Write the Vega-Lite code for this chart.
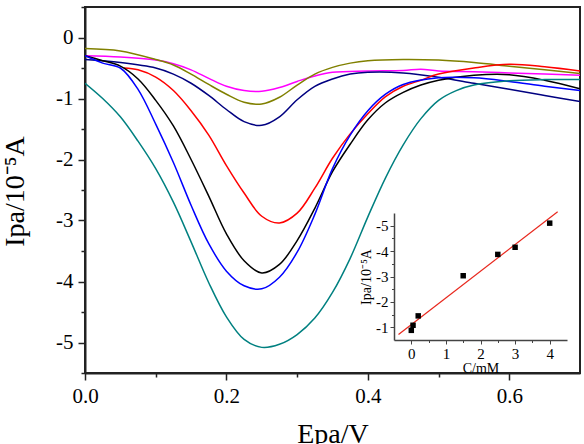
{
  "$schema": "https://vega.github.io/schema/vega-lite/v6.json",
  "width": 495,
  "height": 366,
  "autosize": "none",
  "padding": {"left": 85, "top": 7, "right": 4, "bottom": 71},
  "background": "white",
  "config": {
    "font": "Liberation Serif",
    "view": {"stroke": "#222", "strokeWidth": 2},
    "axis": {
      "grid": false,
      "labelFont": "Liberation Serif",
      "titleFont": "Liberation Serif",
      "titleFontWeight": "normal",
      "labelColor": "#000",
      "titleColor": "#000",
      "domainColor": "#222",
      "tickColor": "#222",
      "labelOverlap": false,
      "labelFlush": false,
      "labelBound": false
    }
  },
  "datasets": {
    "cv": [
      {"c": "0 mM", "E": 0, "I": -0.3}, {"c": "0 mM", "E": 0.05, "I": -0.32}, {"c": "0 mM", "E": 0.1, "I": -0.37}, {"c": "0 mM", "E": 0.125, "I": -0.43}, {"c": "0 mM", "E": 0.15, "I": -0.53}, {"c": "0 mM", "E": 0.175, "I": -0.67}, {"c": "0 mM", "E": 0.2, "I": -0.8}, {"c": "0 mM", "E": 0.225, "I": -0.87}, {"c": "0 mM", "E": 0.25, "I": -0.88}, {"c": "0 mM", "E": 0.275, "I": -0.82}, {"c": "0 mM", "E": 0.3, "I": -0.72}, {"c": "0 mM", "E": 0.325, "I": -0.63}, {"c": "0 mM", "E": 0.35, "I": -0.57}, {"c": "0 mM", "E": 0.4, "I": -0.55}, {"c": "0 mM", "E": 0.45, "I": -0.54}, {"c": "0 mM", "E": 0.475, "I": -0.52}, {"c": "0 mM", "E": 0.5, "I": -0.55}, {"c": "0 mM", "E": 0.55, "I": -0.56}, {"c": "0 mM", "E": 0.6, "I": -0.58}, {"c": "0 mM", "E": 0.65, "I": -0.6}, {"c": "0 mM", "E": 0.7, "I": -0.62},

      {"c": "0.05 mM", "E": 0, "I": -0.18}, {"c": "0.05 mM", "E": 0.05, "I": -0.22}, {"c": "0.05 mM", "E": 0.1, "I": -0.36}, {"c": "0.05 mM", "E": 0.125, "I": -0.45}, {"c": "0.05 mM", "E": 0.15, "I": -0.6}, {"c": "0.05 mM", "E": 0.175, "I": -0.77}, {"c": "0.05 mM", "E": 0.2, "I": -0.93}, {"c": "0.05 mM", "E": 0.225, "I": -1.06}, {"c": "0.05 mM", "E": 0.25, "I": -1.09}, {"c": "0.05 mM", "E": 0.275, "I": -0.98}, {"c": "0.05 mM", "E": 0.3, "I": -0.78}, {"c": "0.05 mM", "E": 0.325, "I": -0.6}, {"c": "0.05 mM", "E": 0.35, "I": -0.49}, {"c": "0.05 mM", "E": 0.375, "I": -0.42}, {"c": "0.05 mM", "E": 0.4, "I": -0.38}, {"c": "0.05 mM", "E": 0.45, "I": -0.36}, {"c": "0.05 mM", "E": 0.5, "I": -0.37}, {"c": "0.05 mM", "E": 0.55, "I": -0.41}, {"c": "0.05 mM", "E": 0.6, "I": -0.47}, {"c": "0.05 mM", "E": 0.65, "I": -0.53}, {"c": "0.05 mM", "E": 0.7, "I": -0.59},

      {"c": "0.2 mM", "E": 0, "I": -0.36}, {"c": "0.2 mM", "E": 0.05, "I": -0.41}, {"c": "0.2 mM", "E": 0.1, "I": -0.5}, {"c": "0.2 mM", "E": 0.125, "I": -0.6}, {"c": "0.2 mM", "E": 0.15, "I": -0.75}, {"c": "0.2 mM", "E": 0.175, "I": -0.95}, {"c": "0.2 mM", "E": 0.2, "I": -1.18}, {"c": "0.2 mM", "E": 0.225, "I": -1.38}, {"c": "0.2 mM", "E": 0.25, "I": -1.44}, {"c": "0.2 mM", "E": 0.275, "I": -1.3}, {"c": "0.2 mM", "E": 0.3, "I": -1.02}, {"c": "0.2 mM", "E": 0.325, "I": -0.8}, {"c": "0.2 mM", "E": 0.35, "I": -0.68}, {"c": "0.2 mM", "E": 0.375, "I": -0.6}, {"c": "0.2 mM", "E": 0.4, "I": -0.57}, {"c": "0.2 mM", "E": 0.45, "I": -0.58}, {"c": "0.2 mM", "E": 0.5, "I": -0.65}, {"c": "0.2 mM", "E": 0.55, "I": -0.75}, {"c": "0.2 mM", "E": 0.6, "I": -0.85}, {"c": "0.2 mM", "E": 0.65, "I": -0.95}, {"c": "0.2 mM", "E": 0.7, "I": -1.05},

      {"c": "1.5 mM", "E": 0.055, "I": -0.5}, {"c": "1.5 mM", "E": 0.075, "I": -0.53}, {"c": "1.5 mM", "E": 0.1, "I": -0.65}, {"c": "1.5 mM", "E": 0.125, "I": -0.87}, {"c": "1.5 mM", "E": 0.15, "I": -1.2}, {"c": "1.5 mM", "E": 0.175, "I": -1.6}, {"c": "1.5 mM", "E": 0.2, "I": -2.1}, {"c": "1.5 mM", "E": 0.225, "I": -2.55}, {"c": "1.5 mM", "E": 0.25, "I": -2.93}, {"c": "1.5 mM", "E": 0.275, "I": -3.04}, {"c": "1.5 mM", "E": 0.3, "I": -2.88}, {"c": "1.5 mM", "E": 0.325, "I": -2.47}, {"c": "1.5 mM", "E": 0.35, "I": -1.98}, {"c": "1.5 mM", "E": 0.375, "I": -1.58}, {"c": "1.5 mM", "E": 0.4, "I": -1.25}, {"c": "1.5 mM", "E": 0.425, "I": -0.97}, {"c": "1.5 mM", "E": 0.45, "I": -0.8}, {"c": "1.5 mM", "E": 0.475, "I": -0.7}, {"c": "1.5 mM", "E": 0.5, "I": -0.6}, {"c": "1.5 mM", "E": 0.55, "I": -0.5}, {"c": "1.5 mM", "E": 0.6, "I": -0.44}, {"c": "1.5 mM", "E": 0.65, "I": -0.48}, {"c": "1.5 mM", "E": 0.7, "I": -0.55},

      {"c": "2.5 mM", "E": 0, "I": -0.3}, {"c": "2.5 mM", "E": 0.025, "I": -0.38}, {"c": "2.5 mM", "E": 0.05, "I": -0.47}, {"c": "2.5 mM", "E": 0.075, "I": -0.68}, {"c": "2.5 mM", "E": 0.1, "I": -1.03}, {"c": "2.5 mM", "E": 0.125, "I": -1.45}, {"c": "2.5 mM", "E": 0.15, "I": -2.0}, {"c": "2.5 mM", "E": 0.175, "I": -2.6}, {"c": "2.5 mM", "E": 0.2, "I": -3.22}, {"c": "2.5 mM", "E": 0.225, "I": -3.66}, {"c": "2.5 mM", "E": 0.25, "I": -3.86}, {"c": "2.5 mM", "E": 0.275, "I": -3.72}, {"c": "2.5 mM", "E": 0.3, "I": -3.33}, {"c": "2.5 mM", "E": 0.325, "I": -2.8}, {"c": "2.5 mM", "E": 0.35, "I": -2.2}, {"c": "2.5 mM", "E": 0.375, "I": -1.75}, {"c": "2.5 mM", "E": 0.4, "I": -1.35}, {"c": "2.5 mM", "E": 0.425, "I": -1.07}, {"c": "2.5 mM", "E": 0.45, "I": -0.9}, {"c": "2.5 mM", "E": 0.475, "I": -0.78}, {"c": "2.5 mM", "E": 0.5, "I": -0.7}, {"c": "2.5 mM", "E": 0.55, "I": -0.62}, {"c": "2.5 mM", "E": 0.6, "I": -0.61}, {"c": "2.5 mM", "E": 0.65, "I": -0.7}, {"c": "2.5 mM", "E": 0.7, "I": -0.84},

      {"c": "3 mM", "E": 0, "I": -0.3}, {"c": "3 mM", "E": 0.025, "I": -0.42}, {"c": "3 mM", "E": 0.05, "I": -0.5}, {"c": "3 mM", "E": 0.075, "I": -0.85}, {"c": "3 mM", "E": 0.1, "I": -1.42}, {"c": "3 mM", "E": 0.125, "I": -2.05}, {"c": "3 mM", "E": 0.15, "I": -2.75}, {"c": "3 mM", "E": 0.175, "I": -3.38}, {"c": "3 mM", "E": 0.2, "I": -3.83}, {"c": "3 mM", "E": 0.225, "I": -4.07}, {"c": "3 mM", "E": 0.25, "I": -4.12}, {"c": "3 mM", "E": 0.275, "I": -3.93}, {"c": "3 mM", "E": 0.3, "I": -3.52}, {"c": "3 mM", "E": 0.325, "I": -2.9}, {"c": "3 mM", "E": 0.35, "I": -2.15}, {"c": "3 mM", "E": 0.375, "I": -1.6}, {"c": "3 mM", "E": 0.4, "I": -1.2}, {"c": "3 mM", "E": 0.425, "I": -0.93}, {"c": "3 mM", "E": 0.45, "I": -0.77}, {"c": "3 mM", "E": 0.5, "I": -0.66}, {"c": "3 mM", "E": 0.55, "I": -0.66}, {"c": "3 mM", "E": 0.6, "I": -0.72}, {"c": "3 mM", "E": 0.65, "I": -0.8}, {"c": "3 mM", "E": 0.7, "I": -0.87},

      {"c": "4 mM", "E": 0, "I": -0.75}, {"c": "4 mM", "E": 0.025, "I": -1.0}, {"c": "4 mM", "E": 0.05, "I": -1.3}, {"c": "4 mM", "E": 0.075, "I": -1.7}, {"c": "4 mM", "E": 0.1, "I": -2.15}, {"c": "4 mM", "E": 0.125, "I": -2.7}, {"c": "4 mM", "E": 0.15, "I": -3.35}, {"c": "4 mM", "E": 0.175, "I": -4.02}, {"c": "4 mM", "E": 0.2, "I": -4.58}, {"c": "4 mM", "E": 0.225, "I": -4.95}, {"c": "4 mM", "E": 0.25, "I": -5.08}, {"c": "4 mM", "E": 0.275, "I": -5.03}, {"c": "4 mM", "E": 0.3, "I": -4.87}, {"c": "4 mM", "E": 0.325, "I": -4.6}, {"c": "4 mM", "E": 0.35, "I": -4.18}, {"c": "4 mM", "E": 0.375, "I": -3.62}, {"c": "4 mM", "E": 0.4, "I": -2.94}, {"c": "4 mM", "E": 0.425, "I": -2.3}, {"c": "4 mM", "E": 0.45, "I": -1.76}, {"c": "4 mM", "E": 0.475, "I": -1.33}, {"c": "4 mM", "E": 0.5, "I": -1.03}, {"c": "4 mM", "E": 0.525, "I": -0.87}, {"c": "4 mM", "E": 0.55, "I": -0.78}, {"c": "4 mM", "E": 0.6, "I": -0.71}, {"c": "4 mM", "E": 0.65, "I": -0.69}, {"c": "4 mM", "E": 0.7, "I": -0.69}
    ],
    "cal": [
      {"C": 0, "Ipa": -0.88},
      {"C": 0.05, "Ipa": -1.08},
      {"C": 0.2, "Ipa": -1.45},
      {"C": 1.5, "Ipa": -3.03},
      {"C": 2.5, "Ipa": -3.87},
      {"C": 3, "Ipa": -4.15},
      {"C": 4, "Ipa": -5.1}
    ],
    "fit": [
      {"C": -0.37, "Ipa": -0.72},
      {"C": 4.23, "Ipa": -5.55}
    ]
  },
  "layer": [
    {
      "data": {"name": "cv"},
      "mark": {"type": "line", "interpolate": "catmull-rom", "strokeWidth": 1.5, "clip": true},
      "encoding": {
        "x": {
          "field": "E", "type": "quantitative",
          "scale": {"domain": [0, 0.7], "nice": false, "zero": false},
          "axis": {
            "orient": "bottom",
            "title": "Epa/V",
            "values": [0, 0.1, 0.2, 0.3, 0.4, 0.5, 0.6],
            "labelExpr": "abs(datum.value*5 - round(datum.value*5)) < 0.01 ? format(datum.value, '.1f') : ''",
            "labelFont": "Liberation Serif",
            "labelFontSize": 21,
            "labelPadding": 5,
            "tickSize": {"condition": {"test": "abs(datum.value*5 - round(datum.value*5)) < 0.01", "value": 7}, "value": 4},
            "tickWidth": 1.5,
            "domainWidth": 2,
            "titleFont": "Liberation Serif",
            "titleFontSize": 28,
            "titleBaseline": "alphabetic",
            "titleY": 69
          }
        },
        "y": {
          "field": "I", "type": "quantitative",
          "scale": {"domain": [-5.5, 0.5], "nice": false, "zero": false},
          "axis": {
            "orient": "left",
            "title": "Ipa/10⁻⁵A",
            "values": [-5.5, -5, -4.5, -4, -3.5, -3, -2.5, -2, -1.5, -1, -0.5, 0, 0.5],
            "labelExpr": "abs(datum.value - round(datum.value)) < 0.01 ? '' + round(datum.value) : ''",
            "labelFont": "Liberation Serif",
            "labelFontSize": 21,
            "labelPadding": 5,
            "tickSize": {"condition": {"test": "abs(datum.value - round(datum.value)) < 0.01", "value": 7}, "value": 4},
            "tickWidth": 1.5,
            "domainWidth": 2,
            "titleFont": "Liberation Serif",
            "titleFontSize": 28,
            "titleBaseline": "middle",
            "titleX": -70,
            "titleY": 184
          }
        },
        "color": {
          "field": "c", "type": "nominal",
          "scale": {
            "domain": ["0 mM", "0.05 mM", "0.2 mM", "1.5 mM", "2.5 mM", "3 mM", "4 mM"],
            "range": ["#ff00ff", "#808000", "#000080", "#ff0000", "#000000", "#0000ff", "#008080"]
          },
          "legend": null
        }
      }
    },
    {
      "encoding": {
        "x": {
          "field": "C", "type": "quantitative",
          "scale": {"domain": [-0.5, 4.5], "range": [309, 482], "nice": false, "zero": false},
          "axis": {
            "orient": "bottom",
            "offset": -33,
            "title": "C/mM",
            "values": [0, 0.5, 1, 1.5, 2, 2.5, 3, 3.5, 4],
            "labelExpr": "abs(datum.value - round(datum.value)) < 0.01 ? '' + round(datum.value) : ''",
            "labelFont": "Liberation Serif",
            "labelFontSize": 15,
            "labelPadding": 2,
            "tickSize": {"condition": {"test": "abs(datum.value - round(datum.value)) < 0.01", "value": 4}, "value": 2.5},
            "tickWidth": 1,
            "domainWidth": 1.5,
            "domainColor": "#444",
            "tickColor": "#444",
            "titleFont": "Liberation Serif",
            "titleFontSize": 14,
            "titlePadding": 0
          }
        },
        "y": {
          "field": "Ipa", "type": "quantitative",
          "scale": {"domain": [-5.5, -0.5], "range": [206, 333], "nice": false, "zero": false},
          "axis": {
            "orient": "left",
            "offset": -309,
            "title": "Ipa/10⁻⁵A",
            "values": [-5, -4.5, -4, -3.5, -3, -2.5, -2, -1.5, -1],
            "labelExpr": "abs(datum.value - round(datum.value)) < 0.01 ? '' + round(datum.value) : ''",
            "labelFont": "Liberation Serif",
            "labelFontSize": 15,
            "labelPadding": 2,
            "tickSize": {"condition": {"test": "abs(datum.value - round(datum.value)) < 0.01", "value": 4}, "value": 2.5},
            "tickWidth": 1,
            "domainWidth": 1.5,
            "domainColor": "#444",
            "tickColor": "#444",
            "titleFont": "Liberation Serif",
            "titleFontSize": 14,
            "titlePadding": 2
          }
        }
      },
      "layer": [
        {
          "data": {"values": [{}]},
          "mark": {"type": "rect", "fill": null, "stroke": "#444", "strokeWidth": 1.5},
          "encoding": {
            "x": {"datum": -0.5},
            "x2": {"datum": 4.5},
            "y": {"datum": -5.5},
            "y2": {"datum": -0.5}
          }
        },
        {
          "data": {"name": "fit"},
          "mark": {"type": "line", "color": "#e8281e", "strokeWidth": 1.2}
        },
        {
          "data": {"name": "cal"},
          "mark": {"type": "point", "shape": "square", "filled": true, "color": "#000", "size": 30, "opacity": 1}
        }
      ]
    }
  ],
  "resolve": {"scale": {"x": "independent", "y": "independent"}}
}
